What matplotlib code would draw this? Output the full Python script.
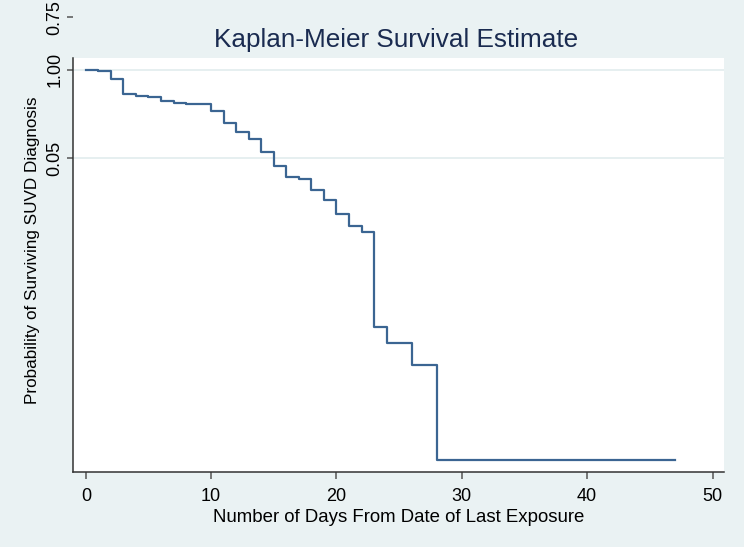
import matplotlib
matplotlib.use("Agg")
import matplotlib.pyplot as plt
from matplotlib.patches import Rectangle

plt.rcParams['font.family'] = ['Liberation Sans', 'DejaVu Sans']

# Kaplan-Meier step values
days = [0, 1, 2, 3, 4, 5, 6, 7, 8, 10, 11, 12, 13, 14, 15, 16, 17, 18, 19,
        20, 21, 22, 23, 24, 26, 28, 47]
surv = [1.000, 0.997, 0.976, 0.940, 0.936, 0.932, 0.922, 0.918, 0.915, 0.897,
        0.868, 0.846, 0.827, 0.797, 0.761, 0.734, 0.729, 0.701, 0.676, 0.642,
        0.612, 0.596, 0.360, 0.322, 0.267, 0.031, 0.031]

# y ticks as printed on the original (labels do not follow the scale)
ytick_pos = [1.131, 1.000, 0.781]
ytick_labels = ['0.75', '1.00', '0.05']
xticks = [0, 10, 20, 30, 40, 50]

BG = '#eaf2f3'
LINE = '#3b6592'
GRID = '#e1ecee'

fig = plt.figure(figsize=(7.44, 5.47), dpi=100, facecolor=BG)
ax = fig.add_axes([0.0985, 0.1366, 0.875, 0.8451])
ax.set_facecolor('none')

plot_top = 1.03
ax.set_xlim(-1, 50.94)
ax.set_ylim(0, 1.1486)

# white plot region (stops below the top tick)
ax.add_patch(Rectangle((-1, 0), 51.94, plot_top, facecolor='white',
                       edgecolor='none', zorder=0))

for y in ytick_pos:
    if y <= plot_top:
        ax.hlines(y, -1, 50.94, color=GRID, lw=1.2, zorder=1)

ax.step(days, surv, where='post', color=LINE, lw=1.6, zorder=3)

for s in ['top', 'right']:
    ax.spines[s].set_visible(False)
ax.spines['left'].set_bounds(0, plot_top)
for s in ['left', 'bottom']:
    ax.spines[s].set_color('#333333')
    ax.spines[s].set_linewidth(1.1)

ax.set_xticks(xticks)
ax.set_yticks(ytick_pos)
ax.set_yticklabels(ytick_labels, rotation=90, va='center')
ax.tick_params(axis='both', width=1.1, color='#555555',
               labelsize=13, labelcolor='black')
ax.tick_params(axis='x', length=5, pad=6.5)
ax.tick_params(axis='y', length=4, pad=3)

ax.set_xlabel('Number of Days From Date of Last Exposure', fontsize=13.4,
              labelpad=2.5)
fig.text(33 / 744, 1 - 250 / 547, 'Probability of Surviving SUVD Diagnosis',
         rotation=90, ha='center', va='center', fontsize=12.3)
fig.text(396 / 744, 1 - 40 / 547, 'Kaplan-Meier Survival Estimate',
         ha='center', va='center', fontsize=18.8, color='#1a2b50')

fig.savefig('out.png', dpi=100, facecolor=BG)
